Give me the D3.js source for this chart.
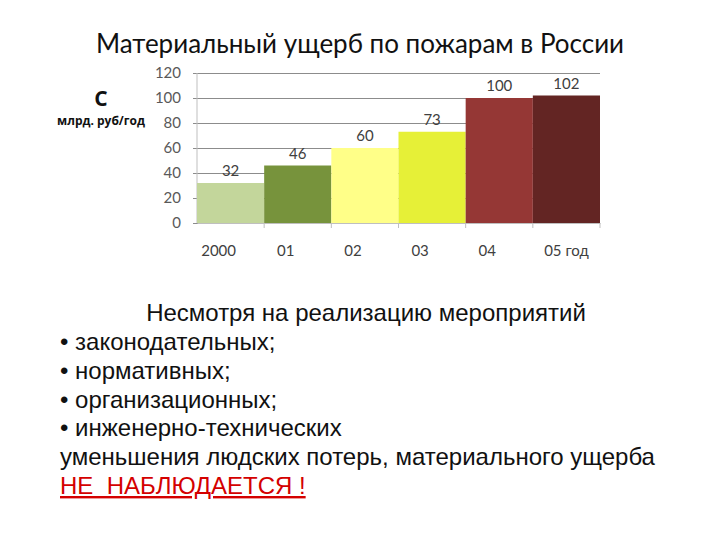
<!DOCTYPE html>
<html>
<head>
<meta charset="utf-8">
<script src="https://cdn.jsdelivr.net/npm/d3@7"></script>
<style>
  body { margin: 0; background: #fff; }
  svg { display: block; }
</style>
</head>
<body>
<svg width="720" height="540"></svg>
<script>
// chart data
const years = ["2000", "01", "02", "03", "04", "05 год"];
const damage = [32, 46, 60, 73, 100, 102];
const yTicks = [0, 20, 40, 60, 80, 100, 120];

const title = "Материальный ущерб по пожарам в России";
const notes = [
  "• законодательных;",
  "• нормативных;",
  "• организационных;",
  "• инженерно-технических"
];

const barColor = d3.scaleOrdinal().
  domain(years).
  range(['#C3D69B', '#77933C', '#FFFF88', '#E6F037', '#953735', '#632523']);

const margin = { top: 73, left: 197 };
const width = 403;
const height = 150;

const svg = d3.select('svg');

svg.append('text').
  attr('x', 360).
  attr('y', 53).
  attr('text-anchor', 'middle').
  attr('font-family', 'Lato').
  attr('font-size', 26).
  attr('fill', '#111').
  text(title);

const g = svg.append('g').
  attr('transform', `translate(${margin.left}, ${margin.top})`).
  attr('font-family', 'Lato');

const x = d3.scaleBand().
  domain(years).
  range([0, width]).
  padding(0);

const y = d3.scaleLinear().
  domain([0, 120]).
  range([height, 0]);

// grid + y axis
const yAxis = d3.axisLeft(y).
  tickValues(yTicks).
  tickSize(-width - 4).
  tickPadding(16);

g.append('g').
  attr('class', 'axis y').
  call(yAxis).
  call(a => a.select('.domain').remove()).
  call(a => a.selectAll('line').attr('stroke', '#8c8c8c').attr('x1', -4).attr('x2', width)).
  call(a => a.selectAll('text').attr('font-size', 15).attr('fill', '#595959').attr('font-family', 'Lato'));

g.append('line').
  attr('x1', 0).attr('x2', 0).
  attr('y1', 0).attr('y2', height).
  attr('stroke', '#bfbfbf');

// bars
g.selectAll('rect.bar').
  data(years).
  enter().append('rect').
  attr('class', 'bar').
  attr('x', d => x(d)).
  attr('width', x.bandwidth()).
  attr('y', (d, i) => y(damage[i])).
  attr('height', (d, i) => height - y(damage[i])).
  attr('fill', d => barColor(d));

g.selectAll('text.val').
  data(years).
  enter().append('text').
  attr('class', 'val').
  attr('x', d => x(d) + x.bandwidth() / 2).
  attr('y', (d, i) => y(damage[i]) - 7).
  attr('text-anchor', 'middle').
  attr('font-size', 15).
  attr('fill', '#404040').
  text((d, i) => damage[i]);

// x axis with ticks between categories
const xAxis = d3.axisBottom(x).tickSize(0).tickPadding(22);
g.append('g').
  attr('class', 'axis x').
  attr('transform', `translate(0, ${height})`).
  call(xAxis).
  call(a => a.select('.domain').attr('stroke', '#bfbfbf')).
  call(a => a.selectAll('text').
    attr('font-size', 15).
    attr('fill', '#404040').
    attr('font-family', 'Lato').
    attr('dx', d => d.endsWith('год') ? 0 : -12));

g.append('g').
  selectAll('line').
  data(years.slice(1).concat(['end'])).
  enter().append('line').
  attr('x1', d => d === 'end' ? width : x(d)).
  attr('x2', d => d === 'end' ? width : x(d)).
  attr('y1', height).
  attr('y2', height + 5).
  attr('stroke', '#bfbfbf');

// y label
svg.append('text').
  attr('x', 101).
  attr('y', 106).
  attr('text-anchor', 'middle').
  attr('font-family', 'Open Sans').
  attr('font-weight', 'bold').
  attr('font-size', 21).
  attr('fill', '#111').
  text('C');

svg.append('text').
  attr('x', 101).
  attr('y', 125).
  attr('text-anchor', 'middle').
  attr('font-family', 'Open Sans').
  attr('font-weight', 'bold').
  attr('font-size', 12).
  attr('fill', '#111').
  text('млрд. руб/год');

// notes below
const txt = svg.append('g').
  attr('font-family', 'Liberation Sans').
  attr('font-size', 24).
  attr('fill', '#111');

txt.append('text').
  attr('x', 366).
  attr('y', 321).
  attr('text-anchor', 'middle').
  text('Несмотря на реализацию мероприятий');

txt.selectAll('text.note').
  data(notes).
  enter().append('text').
  attr('class', 'note').
  attr('x', 60).
  attr('y', (d, i) => 350 + i * 28.8).
  text(d => d);

txt.append('text').
  attr('x', 60).
  attr('y', 465).
  text('уменьшения людских потерь, материального ущерба');

txt.append('text').
  attr('x', 60).
  attr('y', 494).
  attr('fill', '#D40000').
  attr('text-decoration', 'underline').
  text('НЕ  НАБЛЮДАЕТСЯ !').
  style('white-space', 'pre');
</script>
</body>
</html>
